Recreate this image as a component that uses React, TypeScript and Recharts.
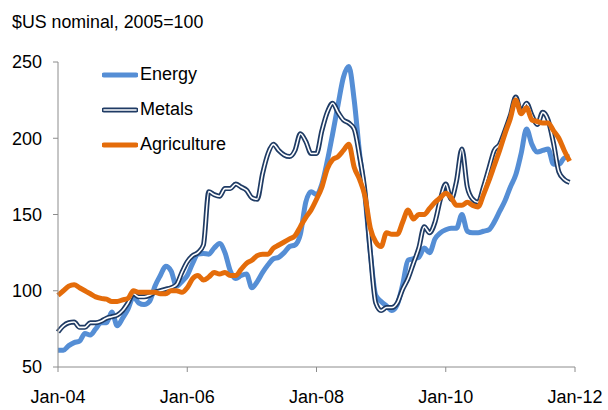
import { Line, LineChart, XAxis, YAxis } from "recharts";

// monthly index, Jan-04 = 0 ... Dec-11 = 95
const energy = [
  61, 61, 64, 66, 67, 72, 71, 75, 79, 79, 86, 77,
  82, 88, 96, 92, 91, 93, 103, 110, 116, 113, 103, 106,
  110, 118, 124, 124.5, 124, 128, 131, 125, 113, 108, 110, 111,
  102, 106, 112, 117, 121, 122, 125, 129, 130, 137, 158, 165,
  163, 170, 185, 203, 222, 240, 247, 225, 190, 162, 125, 97,
  93, 90, 87, 91, 104, 120, 121, 122, 128, 125, 134, 138,
  140, 141, 141, 150, 139, 138, 138, 139, 140, 145, 152, 159,
  168, 176, 190, 206, 196, 191, 192, 193, 183, 183, 187, 188,
];

const metals = [
  73, 77, 79, 79.5, 76, 76, 79, 79, 80, 82, 83, 84,
  87, 92, 98, 96, 96, 97, 99, 100, 101, 102, 104, 112,
  119, 123, 125, 130, 165, 163, 162, 167, 167, 170, 168, 166,
  161, 160, 177, 190, 196, 192, 189, 188, 192, 203, 198, 190,
  190, 205, 217, 223, 217, 212, 210, 206, 188, 165, 125, 92,
  87, 89, 89, 92, 101, 108, 118, 128, 142, 138, 145, 160,
  170, 160, 172, 193, 168, 160, 158, 168, 180, 192, 196, 205,
  215, 227, 217, 223, 215, 209, 217, 212, 197, 178, 173, 171,
];

const agriculture = [
  97, 100, 103, 104, 102, 100, 98, 96, 95, 94.5, 93, 93,
  94, 95, 100, 99, 99, 99, 99, 98, 98, 100, 100, 99,
  102, 108, 110, 107, 109, 112, 111, 112, 110, 110, 114, 118,
  120, 123, 124, 124, 128, 130, 132, 134, 136, 142, 148, 153,
  160, 168, 180, 186, 188, 192, 196, 181, 173, 162, 141, 132,
  129, 138, 137, 137, 145, 153, 147, 150, 150, 154, 158, 161,
  164, 161, 156, 156, 158, 156, 155, 163, 172, 182, 192, 203,
  213, 225, 216, 220, 212, 211, 210, 210, 205, 200, 192, 185,
];

const xTicks = [0, 24, 48, 72, 96];
const xLabels = ["Jan-04", "Jan-06", "Jan-08", "Jan-10", "Jan-12"];
const yTicks = [50, 100, 150, 200, 250];

const ENERGY = "#558ed5";
const METALS = "#1f3b64";
const AGRI = "#e46c0a";

const data = energy.map((e, i) => ({
  m: i,
  energy: e,
  metals: metals[i],
  agriculture: agriculture[i],
}));

function LegendBox() {
  const row = (label: string, swatch: React.ReactNode) => (
    <div style={{ display: "flex", alignItems: "center", height: 35 }}>
      <svg width={36} height={10}>{swatch}</svg>
      <span style={{ marginLeft: 2 }}>{label}</span>
    </div>
  );
  return (
    <div style={{ position: "absolute", left: 102, top: 57, fontSize: 18, color: "#000", lineHeight: "35px" }}>
      {row("Energy", <line x1={2} x2={34} y1={5} y2={5} stroke={ENERGY} strokeWidth={5} strokeLinecap="round" />)}
      {row(
        "Metals",
        <>
          <line x1={2} x2={34} y1={5} y2={5} stroke={METALS} strokeWidth={5} strokeLinecap="round" />
          <line x1={2} x2={34} y1={5} y2={5} stroke="#fff" strokeWidth={1.6} strokeLinecap="round" />
        </>
      )}
      {row("Agriculture", <line x1={2} x2={34} y1={5} y2={5} stroke={AGRI} strokeWidth={5} strokeLinecap="round" />)}
    </div>
  );
}

export default function App() {
  return (
    <div
      style={{
        position: "absolute",
        left: 0,
        top: 0,
        width: 608,
        height: 410,
        background: "#fff",
        fontFamily: "'Liberation Sans', Arial, sans-serif",
      }}
    >
      <div style={{ position: "absolute", left: 12, top: 12, fontSize: 17.8, color: "#000" }}>
        $US nominal, 2005=100
      </div>
      <LineChart
        width={608}
        height={410}
        data={data}
        margin={{ top: 62, right: 33, bottom: 0, left: 8 }}
      >
        <XAxis
          dataKey="m"
          type="number"
          domain={[0, 96]}
          ticks={xTicks}
          tickFormatter={(v: number) => xLabels[xTicks.indexOf(v)]}
          height={43}
          tickSize={5}
          tickMargin={18}
          stroke="#8c8c8c"
          tick={{ fill: "#000", fontSize: 18 }}
        />
        <YAxis
          domain={[50, 250]}
          ticks={yTicks}
          width={50}
          tickSize={5}
          tickMargin={11}
          stroke="#8c8c8c"
          tick={{ fill: "#000", fontSize: 18 }}
        />
        <Line type="monotone" dataKey="energy" stroke={ENERGY} strokeWidth={5} dot={false} isAnimationActive={false} />
        <Line type="monotone" dataKey="metals" stroke={METALS} strokeWidth={5} dot={false} isAnimationActive={false} />
        <Line type="monotone" dataKey="metals" stroke="#fff" strokeWidth={1.6} dot={false} isAnimationActive={false} />
        <Line type="monotone" dataKey="agriculture" stroke={AGRI} strokeWidth={5} dot={false} isAnimationActive={false} />
      </LineChart>
      <LegendBox />
    </div>
  );
}
